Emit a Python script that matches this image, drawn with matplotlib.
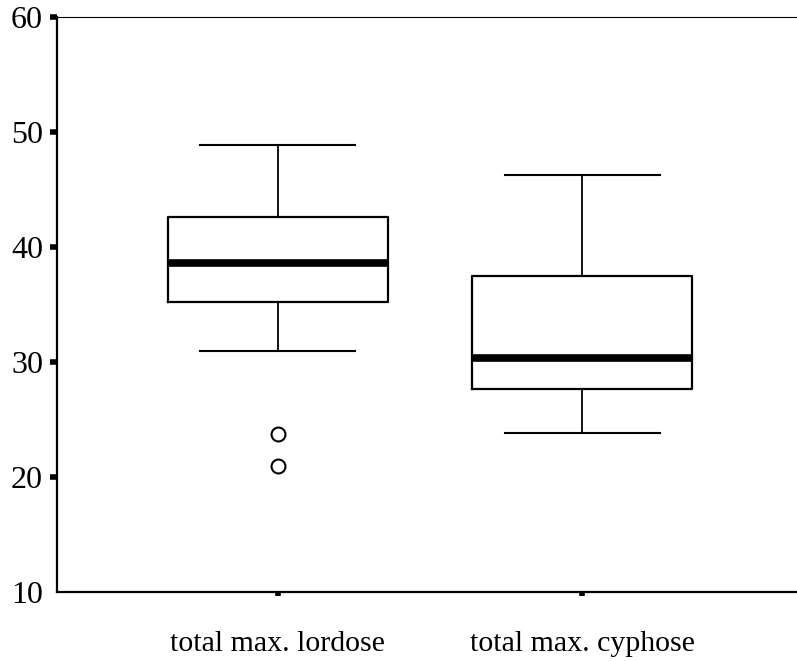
import matplotlib
matplotlib.use('Agg')
import matplotlib.pyplot as plt

# values
labels = ['total max. lordose', 'total max. cyphose']
whislo = [30.9, 23.8]
q1 = [35.2, 27.6]
med = [38.55, 30.3]
q3 = [42.55, 37.45]
whishi = [48.8, 46.2]
fliers = [[23.7, 20.95], []]
yticks = [10, 20, 30, 40, 50, 60]

stats = []
for i in range(len(labels)):
    stats.append(dict(label=labels[i], whislo=whislo[i], q1=q1[i], med=med[i],
                      q3=q3[i], whishi=whishi[i], fliers=fliers[i]))

plt.rcParams['font.family'] = ['Liberation Serif', 'DejaVu Serif']

fig = plt.figure(figsize=(7.97, 6.61), dpi=100)
ax = fig.add_axes([57 / 797, 1 - 592 / 661, 1 - 57 / 797, (592 - 16.5) / 661])

ax.bxp(stats, positions=[1, 2], widths=0.722, capwidths=0.51,
       boxprops=dict(color='black', linewidth=1.6),
       whiskerprops=dict(color='black', linewidth=1.3),
       capprops=dict(color='black', linewidth=1.5),
       medianprops=dict(color='black', linewidth=5.5, solid_capstyle='butt'),
       flierprops=dict(marker='o', markersize=10, markerfacecolor='white',
                       markeredgecolor='black', markeredgewidth=1.5))

ax.set_xlim(0.275, 2.705)
ax.set_ylim(10, 60)
ax.set_yticks(yticks)
ax.set_yticklabels([str(t) for t in yticks])

ax.spines['right'].set_visible(False)
ax.spines['top'].set_linewidth(0.8)
ax.spines['left'].set_linewidth(1.6)
ax.spines['bottom'].set_linewidth(1.6)

ax.tick_params(axis='y', direction='out', length=5, width=4, pad=5, labelsize=23)
ax.tick_params(axis='x', direction='out', length=3, width=4, pad=25, labelsize=21.5)
ax.yaxis.get_major_ticks()[0].tick1line.set_visible(False)

fig.savefig('out.png', dpi=100)
